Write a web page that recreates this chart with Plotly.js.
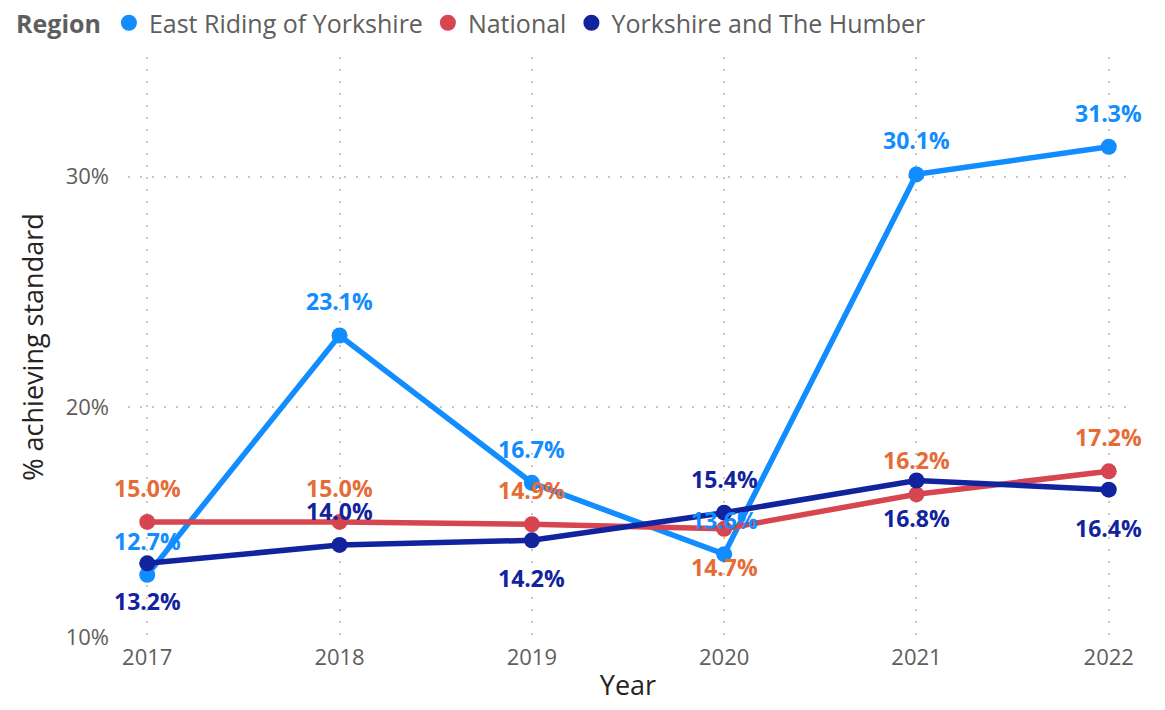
<!DOCTYPE html>
<html>
<head>
<meta charset="utf-8">
<script src="https://cdn.plot.ly/plotly-3.0.1.min.js"></script>
<style>html,body{margin:0;padding:0;background:#fff;}#chart{width:1165px;height:710px;}</style>
</head>
<body>
<div id="chart"></div>
<script>
const years = [2017, 2018, 2019, 2020, 2021, 2022];
const eastRiding = [12.7, 23.1, 16.7, 13.6, 30.1, 31.3];
const national = [15.0, 15.0, 14.9, 14.7, 16.2, 17.2];
const yorkshire = [13.2, 14.0, 14.2, 15.4, 16.8, 16.4];
const seriesNames = ["East Riding of Yorkshire", "National", "Yorkshire and The Humber"];
const yTicks = [10, 20, 30];
const yTickLabels = ["10%", "20%", "30%"];
// label side: 1 = above point, -1 = below point
const eastSide = [1, 1, 1, 1, 1, 1];
const nationalSide = [1, 1, 1, -1, 1, 1];
const yorkshireSide = [-1, 1, -1, 1, -1, -1];

const FONT = "'Open Sans', 'Segoe UI', sans-serif";
const series = [
  {name: seriesNames[0], y: eastRiding, color: "#118DFF", label: "#118DFF", side: eastSide},
  {name: seriesNames[1], y: national, color: "#D64550", label: "#E66C37", side: nationalSide},
  {name: seriesNames[2], y: yorkshire, color: "#12239E", label: "#12239E", side: yorkshireSide}
];

const traces = [];
series.forEach(s => {
  traces.push({
    type: "scatter", mode: "lines+markers", x: years, y: s.y, name: s.name,
    line: {color: s.color, width: 5.5}, marker: {color: s.color, size: 16},
    showlegend: false, hoverinfo: "x+y"
  });
});
series.forEach(s => {
  traces.push({
    type: "scatter", mode: "markers", x: [null], y: [null], name: s.name,
    marker: {color: s.color, size: 18}, showlegend: true
  });
});

const annotations = [];
series.forEach(s => {
  s.y.forEach((v, i) => {
    annotations.push({
      x: years[i], y: v, xref: "x", yref: "y", text: v.toFixed(1) + "%",
      showarrow: false, yshift: s.side[i] > 0 ? 34 : -38,
      font: {family: FONT, size: 23, color: s.label, weight: 700}
    });
  });
});

const layout = {
  width: 1165, height: 710,
  margin: {l: 128, r: 37, t: 57, b: 73},
  paper_bgcolor: "#fff", plot_bgcolor: "#fff",
  font: {family: FONT, color: "#605E5C"},
  xaxis: {
    range: [2016.9, 2022.1], tickvals: years, ticktext: years.map(String),
    showgrid: true, gridcolor: "#C8C6C4", griddash: "2px,10px", gridwidth: 2,
    zeroline: false, showline: false, ticks: "",
    tickfont: {family: FONT, size: 22, color: "#605E5C"},
    ticklabelstandoff: 5,
    title: {text: "Year", font: {family: FONT, size: 27, color: "#252423"}, standoff: 6}
  },
  yaxis: {
    range: [10, 35.2], tickvals: yTicks, ticktext: yTickLabels,
    showgrid: true, gridcolor: "#C8C6C4", griddash: "2px,10px", gridwidth: 2,
    zeroline: false, showline: false, ticks: "",
    tickfont: {family: FONT, size: 22, color: "#605E5C"},
    ticklabelstandoff: 18,
    title: {text: "% achieving standard", font: {family: FONT, size: 27, color: "#252423"}, standoff: 14}
  },
  legend: {
    orientation: "h", xref: "container", yref: "container", x: 0.012, y: 1,
    xanchor: "left", yanchor: "top",
    title: {text: "<b>Region</b>", font: {family: FONT, size: 25, color: "#605E5C"}, side: "left"},
    font: {family: FONT, size: 25, color: "#605E5C"},
    itemwidth: 30, tracegroupgap: 0, itemclick: false
  },
  annotations: annotations,
  showlegend: true
};

Plotly.newPlot("chart", traces, layout, {displayModeBar: false, staticPlot: true});
</script>
</body>
</html>
